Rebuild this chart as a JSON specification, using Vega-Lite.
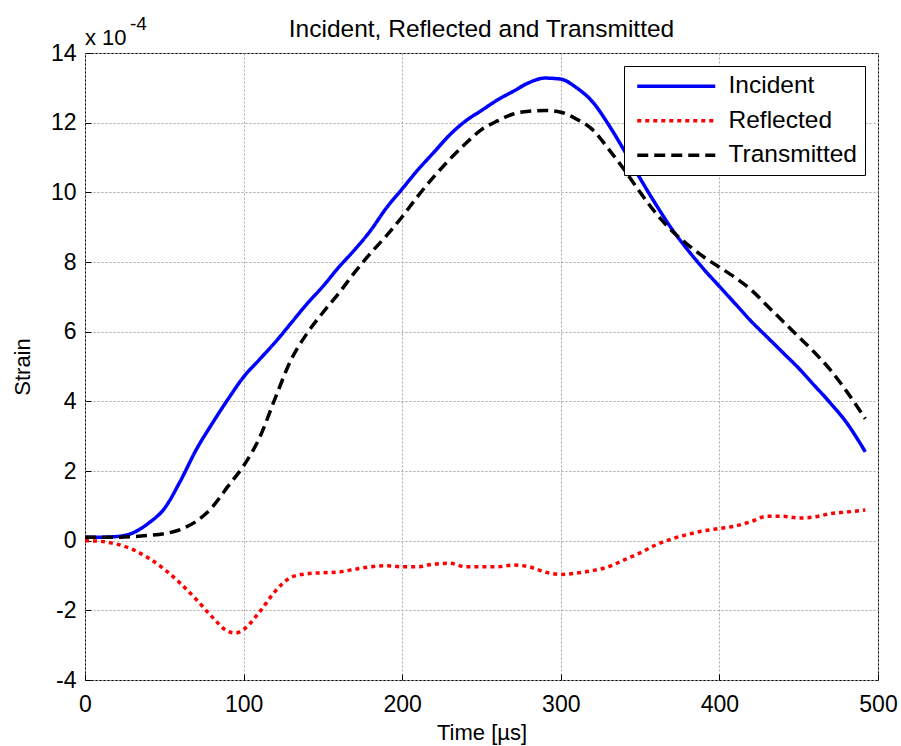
{
  "$schema": "https://vega.github.io/schema/vega-lite/v6.json",
  "width": 793,
  "height": 627,
  "autosize": {"type": "none"},
  "padding": {"left": 85, "top": 53, "right": 23, "bottom": 66},
  "background": "white",
  "title": {"text": "Incident, Reflected and Transmitted", "fontSize": 24.5, "fontWeight": "normal", "color": "black", "font": "Liberation Sans", "baseline": "alphabetic", "offset": -46},
  "datasets": {
    "series": [
      {"t": 0, "series": "Incident", "v": 0.10},
      {"t": 10, "series": "Incident", "v": 0.10},
      {"t": 20, "series": "Incident", "v": 0.12},
      {"t": 30, "series": "Incident", "v": 0.22},
      {"t": 40, "series": "Incident", "v": 0.50},
      {"t": 50, "series": "Incident", "v": 0.92},
      {"t": 60, "series": "Incident", "v": 1.70},
      {"t": 70, "series": "Incident", "v": 2.60},
      {"t": 80, "series": "Incident", "v": 3.35},
      {"t": 90, "series": "Incident", "v": 4.05},
      {"t": 100, "series": "Incident", "v": 4.70},
      {"t": 110, "series": "Incident", "v": 5.20},
      {"t": 120, "series": "Incident", "v": 5.70},
      {"t": 130, "series": "Incident", "v": 6.25},
      {"t": 140, "series": "Incident", "v": 6.80},
      {"t": 150, "series": "Incident", "v": 7.30},
      {"t": 160, "series": "Incident", "v": 7.85},
      {"t": 170, "series": "Incident", "v": 8.35},
      {"t": 180, "series": "Incident", "v": 8.90},
      {"t": 190, "series": "Incident", "v": 9.55},
      {"t": 200, "series": "Incident", "v": 10.10},
      {"t": 210, "series": "Incident", "v": 10.65},
      {"t": 220, "series": "Incident", "v": 11.15},
      {"t": 230, "series": "Incident", "v": 11.65},
      {"t": 240, "series": "Incident", "v": 12.05},
      {"t": 250, "series": "Incident", "v": 12.35},
      {"t": 260, "series": "Incident", "v": 12.65},
      {"t": 270, "series": "Incident", "v": 12.90},
      {"t": 280, "series": "Incident", "v": 13.15},
      {"t": 290, "series": "Incident", "v": 13.28},
      {"t": 300, "series": "Incident", "v": 13.25},
      {"t": 310, "series": "Incident", "v": 13.00},
      {"t": 320, "series": "Incident", "v": 12.60},
      {"t": 330, "series": "Incident", "v": 11.95},
      {"t": 340, "series": "Incident", "v": 11.20},
      {"t": 350, "series": "Incident", "v": 10.40},
      {"t": 360, "series": "Incident", "v": 9.65},
      {"t": 370, "series": "Incident", "v": 8.95},
      {"t": 380, "series": "Incident", "v": 8.35},
      {"t": 390, "series": "Incident", "v": 7.80},
      {"t": 400, "series": "Incident", "v": 7.30},
      {"t": 410, "series": "Incident", "v": 6.80},
      {"t": 420, "series": "Incident", "v": 6.30},
      {"t": 430, "series": "Incident", "v": 5.85},
      {"t": 440, "series": "Incident", "v": 5.40},
      {"t": 450, "series": "Incident", "v": 4.95},
      {"t": 460, "series": "Incident", "v": 4.45},
      {"t": 470, "series": "Incident", "v": 3.95},
      {"t": 480, "series": "Incident", "v": 3.40},
      {"t": 492, "series": "Incident", "v": 2.55},

      {"t": 0, "series": "Reflected", "v": 0.00},
      {"t": 10, "series": "Reflected", "v": -0.02},
      {"t": 20, "series": "Reflected", "v": -0.10},
      {"t": 30, "series": "Reflected", "v": -0.25},
      {"t": 40, "series": "Reflected", "v": -0.50},
      {"t": 50, "series": "Reflected", "v": -0.82},
      {"t": 60, "series": "Reflected", "v": -1.22},
      {"t": 70, "series": "Reflected", "v": -1.68},
      {"t": 80, "series": "Reflected", "v": -2.18},
      {"t": 90, "series": "Reflected", "v": -2.60},
      {"t": 95, "series": "Reflected", "v": -2.65},
      {"t": 100, "series": "Reflected", "v": -2.55},
      {"t": 110, "series": "Reflected", "v": -2.05},
      {"t": 120, "series": "Reflected", "v": -1.45},
      {"t": 130, "series": "Reflected", "v": -1.05},
      {"t": 140, "series": "Reflected", "v": -0.95},
      {"t": 150, "series": "Reflected", "v": -0.92},
      {"t": 160, "series": "Reflected", "v": -0.90},
      {"t": 170, "series": "Reflected", "v": -0.82},
      {"t": 180, "series": "Reflected", "v": -0.75},
      {"t": 190, "series": "Reflected", "v": -0.72},
      {"t": 200, "series": "Reflected", "v": -0.75},
      {"t": 210, "series": "Reflected", "v": -0.75},
      {"t": 220, "series": "Reflected", "v": -0.67},
      {"t": 230, "series": "Reflected", "v": -0.65},
      {"t": 240, "series": "Reflected", "v": -0.75},
      {"t": 250, "series": "Reflected", "v": -0.75},
      {"t": 260, "series": "Reflected", "v": -0.75},
      {"t": 270, "series": "Reflected", "v": -0.70},
      {"t": 280, "series": "Reflected", "v": -0.75},
      {"t": 290, "series": "Reflected", "v": -0.90},
      {"t": 300, "series": "Reflected", "v": -0.97},
      {"t": 310, "series": "Reflected", "v": -0.93},
      {"t": 320, "series": "Reflected", "v": -0.86},
      {"t": 330, "series": "Reflected", "v": -0.75},
      {"t": 340, "series": "Reflected", "v": -0.55},
      {"t": 350, "series": "Reflected", "v": -0.35},
      {"t": 360, "series": "Reflected", "v": -0.12},
      {"t": 370, "series": "Reflected", "v": 0.05},
      {"t": 380, "series": "Reflected", "v": 0.18},
      {"t": 390, "series": "Reflected", "v": 0.28},
      {"t": 400, "series": "Reflected", "v": 0.35},
      {"t": 410, "series": "Reflected", "v": 0.42},
      {"t": 420, "series": "Reflected", "v": 0.55},
      {"t": 430, "series": "Reflected", "v": 0.70},
      {"t": 440, "series": "Reflected", "v": 0.70},
      {"t": 450, "series": "Reflected", "v": 0.65},
      {"t": 460, "series": "Reflected", "v": 0.68},
      {"t": 470, "series": "Reflected", "v": 0.78},
      {"t": 480, "series": "Reflected", "v": 0.82},
      {"t": 492, "series": "Reflected", "v": 0.88},

      {"t": 0, "series": "Transmitted", "v": 0.10},
      {"t": 20, "series": "Transmitted", "v": 0.10},
      {"t": 40, "series": "Transmitted", "v": 0.15},
      {"t": 50, "series": "Transmitted", "v": 0.20},
      {"t": 60, "series": "Transmitted", "v": 0.32},
      {"t": 70, "series": "Transmitted", "v": 0.55},
      {"t": 80, "series": "Transmitted", "v": 0.95},
      {"t": 90, "series": "Transmitted", "v": 1.55},
      {"t": 100, "series": "Transmitted", "v": 2.15},
      {"t": 110, "series": "Transmitted", "v": 2.95},
      {"t": 120, "series": "Transmitted", "v": 4.10},
      {"t": 130, "series": "Transmitted", "v": 5.20},
      {"t": 140, "series": "Transmitted", "v": 5.95},
      {"t": 150, "series": "Transmitted", "v": 6.55},
      {"t": 160, "series": "Transmitted", "v": 7.10},
      {"t": 170, "series": "Transmitted", "v": 7.70},
      {"t": 180, "series": "Transmitted", "v": 8.25},
      {"t": 190, "series": "Transmitted", "v": 8.75},
      {"t": 200, "series": "Transmitted", "v": 9.30},
      {"t": 210, "series": "Transmitted", "v": 9.90},
      {"t": 220, "series": "Transmitted", "v": 10.45},
      {"t": 230, "series": "Transmitted", "v": 10.95},
      {"t": 240, "series": "Transmitted", "v": 11.40},
      {"t": 250, "series": "Transmitted", "v": 11.80},
      {"t": 260, "series": "Transmitted", "v": 12.05},
      {"t": 270, "series": "Transmitted", "v": 12.25},
      {"t": 280, "series": "Transmitted", "v": 12.33},
      {"t": 290, "series": "Transmitted", "v": 12.35},
      {"t": 300, "series": "Transmitted", "v": 12.30},
      {"t": 310, "series": "Transmitted", "v": 12.10},
      {"t": 320, "series": "Transmitted", "v": 11.80},
      {"t": 330, "series": "Transmitted", "v": 11.25},
      {"t": 340, "series": "Transmitted", "v": 10.65},
      {"t": 350, "series": "Transmitted", "v": 10.00},
      {"t": 360, "series": "Transmitted", "v": 9.40},
      {"t": 370, "series": "Transmitted", "v": 8.90},
      {"t": 380, "series": "Transmitted", "v": 8.50},
      {"t": 390, "series": "Transmitted", "v": 8.15},
      {"t": 400, "series": "Transmitted", "v": 7.85},
      {"t": 410, "series": "Transmitted", "v": 7.55},
      {"t": 420, "series": "Transmitted", "v": 7.20},
      {"t": 430, "series": "Transmitted", "v": 6.75},
      {"t": 440, "series": "Transmitted", "v": 6.30},
      {"t": 450, "series": "Transmitted", "v": 5.85},
      {"t": 460, "series": "Transmitted", "v": 5.40},
      {"t": 470, "series": "Transmitted", "v": 4.90},
      {"t": 480, "series": "Transmitted", "v": 4.30},
      {"t": 492, "series": "Transmitted", "v": 3.50}
    ]
  },
  "layer": [
    {
      "data": {"name": "series"},
      "mark": {"type": "line", "strokeWidth": 3.5, "strokeCap": "butt", "interpolate": "monotone"},
      "encoding": {
        "x": {"field": "t", "type": "quantitative", "scale": {"domain": [0, 500], "nice": false},
              "axis": {"title": "Time [µs]", "values": [0, 100, 200, 300, 400, 500], "labelPadding": 19, "titlePadding": 6, "labelFlush": false, "labelOverlap": false}},
        "y": {"field": "v", "type": "quantitative", "scale": {"domain": [-4, 14], "nice": false, "zero": false},
              "axis": {"title": "Strain", "values": [-4, -2, 0, 2, 4, 6, 8, 10, 12, 14], "labelExpr": "'' + datum.value", "labelPadding": 15, "titlePadding": 16, "labelFlush": false, "labelOverlap": false}},
        "color": {"field": "series", "type": "nominal",
                  "scale": {"domain": ["Incident", "Reflected", "Transmitted"], "range": ["#0000FF", "#FF0000", "#000000"]},
                  "legend": {"title": null}},
        "strokeDash": {"field": "series", "type": "nominal",
                  "scale": {"domain": ["Incident", "Reflected", "Transmitted"], "range": [[1, 0], [4, 4], [11, 6]]},
                  "legend": {"title": null}}
      }
    },
    {
      "data": {"values": [{}]},
      "mark": {"type": "text", "text": "x 10", "align": "left", "baseline": "alphabetic", "fontSize": 22, "font": "Liberation Sans", "color": "black", "dy": -8},
      "encoding": {"x": {"datum": 0}, "y": {"datum": 14}}
    },
    {
      "data": {"values": [{}]},
      "mark": {"type": "text", "text": "-4", "align": "left", "baseline": "alphabetic", "fontSize": 19, "font": "Liberation Sans", "color": "black", "dx": 45, "dy": -23},
      "encoding": {"x": {"datum": 0}, "y": {"datum": 14}}
    }
  ],
  "config": {
    "font": "Liberation Sans",
    "view": {"stroke": "black", "strokeWidth": 1},
    "axis": {
      "domain": false,
      "grid": true,
      "gridColor": "#a8a8a8",
      "gridDash": [2, 2],
      "gridWidth": 1,
      "gridOpacity": 1,
      "ticks": true,
      "tickColor": "black",
      "tickSize": -6,
      "labelFont": "Liberation Sans",
      "labelFontSize": 23,
      "labelColor": "black",
      "titleFont": "Liberation Sans",
      "titleFontSize": 22,
      "titleFontWeight": "normal",
      "titleColor": "black"
    },
    "legend": {
      "orient": "top-right",
      "offset": 13,
      "strokeColor": "black",
      "strokeWidth": 1,
      "fillColor": "white",
      "padding": 8,
      "symbolType": "M-0.7,0H7.1",
      "symbolSize": 400,
      "symbolStrokeWidth": 3.5,
      "labelFontSize": 24.5,
      "labelFont": "Liberation Sans",
      "labelColor": "black",
      "labelOffset": 72,
      "rowPadding": 9.5
    }
  }
}
